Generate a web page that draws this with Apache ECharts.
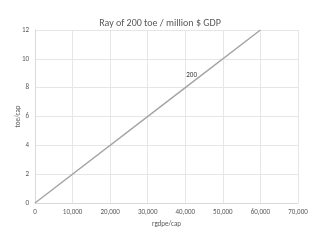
<!DOCTYPE html>
<html><head><meta charset="utf-8">
<script src="https://cdn.jsdelivr.net/npm/echarts@6/dist/echarts.min.js"></script>
<style>html,body{margin:0;padding:0;background:#fff}#c{width:320px;height:240px}</style>
</head><body><div id="c"></div>
<script>
const xValues = [0, 40000, 60000];
const yValues = [0, 8, 12];
const pointLabels = ['', '200', ''];
const xTicks = [0, 10000, 20000, 30000, 40000, 50000, 60000, 70000];
const yTicks = [0, 2, 4, 6, 8, 10, 12];

const chart = echarts.init(document.getElementById('c'), null, {renderer: 'canvas'});
const font = 'Calibri, Carlito, "Liberation Sans", sans-serif';
chart.setOption({
  animation: false,
  title: {text: 'Ray of 200 toe / million $ GDP', left: 'center', top: 13,
    textStyle: {fontSize: 10, fontWeight: 'normal', color: '#595959', fontFamily: font}},
  grid: {left: 35, right: 22, top: 30, bottom: 37, containLabel: false, outerBoundsMode: 'none'},
  xAxis: {type: 'value', min: 0, max: 70000, interval: 10000,
    name: 'rgdpe/cap', nameLocation: 'middle', nameGap: 18, nameMoveOverlap: false,
    nameTextStyle: {fontSize: 7, color: '#595959', fontFamily: font},
    axisLine: {lineStyle: {color: '#d9d9d9'}}, axisTick: {show: false},
    axisLabel: {fontSize: 7, color: '#595959', fontFamily: font, margin: 6,
      formatter: v => v.toLocaleString('en-US')},
    splitLine: {show: true, lineStyle: {color: '#e6e6e6'}}},
  yAxis: {type: 'value', min: 0, max: 12, interval: 2,
    name: 'toe/cap', nameLocation: 'middle', nameGap: 13, nameRotate: 90, nameMoveOverlap: false,
    nameTextStyle: {fontSize: 7, color: '#595959', fontFamily: font},
    axisLine: {show: true, lineStyle: {color: '#d9d9d9'}}, axisTick: {show: false},
    axisLabel: {fontSize: 7, color: '#595959', fontFamily: font, margin: 6},
    splitLine: {show: true, lineStyle: {color: '#e6e6e6'}}},
  series: [{type: 'line', showSymbol: true, symbol: 'circle', symbolSize: 0,
    lineStyle: {color: '#a5a5a5', width: 1.5},
    data: xValues.map((x, i) => ({value: [x, yValues[i]],
      label: {show: pointLabels[i] !== '', formatter: pointLabels[i], position: [1, -16],
        fontSize: 7, color: '#404040', fontFamily: font}}))
  }]
});
</script></body></html>
